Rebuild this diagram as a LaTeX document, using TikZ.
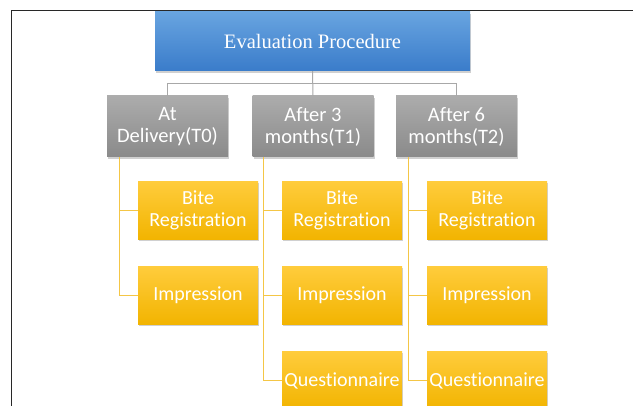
\documentclass[tikz,border=0pt]{standalone}
\usepackage{fontspec}
\setmainfont{Liberation Serif}
\newfontfamily\carlito[Ligatures={NoCommon}]{Carlito}
\usetikzlibrary{shadows}
\definecolor{bluetop}{RGB}{104,164,224}
\definecolor{bluebot}{RGB}{58,124,202}
\definecolor{graytop}{RGB}{172,172,172}
\definecolor{graybot}{RGB}{138,138,138}
\definecolor{yeltop}{RGB}{255,204,60}
\definecolor{yelbot}{RGB}{242,180,0}
\definecolor{glinec}{RGB}{168,168,168}
\definecolor{ylinec}{RGB}{244,198,70}
\definecolor{framec}{RGB}{40,40,40}
\tikzset{
  boxbase/.style={inner sep=0pt, align=center, text=white,
    drop shadow={shadow xshift=1.2pt, shadow yshift=-2pt, opacity=0.3, fill=black!60}},
  titlebox/.style={boxbase, minimum width=315pt, minimum height=59pt,
    top color=bluetop, bottom color=bluebot, font=\fontsize{20.5}{22}\selectfont},
  graybox/.style={boxbase, minimum width=121pt, minimum height=61pt,
    top color=graytop, bottom color=graybot, font=\carlito\fontsize{20.5}{22}\selectfont},
  yelbox/.style={boxbase, minimum width=120pt, minimum height=58pt,
    top color=yeltop, bottom color=yelbot, font=\carlito\fontsize{20}{22}\selectfont},
  gline/.style={draw=glinec, line width=1pt},
  yline/.style={draw=ylinec, line width=1.2pt},
}
\begin{document}
\begin{tikzpicture}[x=1pt,y=-1pt]
\useasboundingbox (0,0) rectangle (633,406);
\fill[white] (0,0) rectangle (633,406);
\coordinate (ftl) at (11,11);
\coordinate (ftr) at (633,11);
\coordinate (fbl) at (11,406);
\draw[framec, line width=1pt] (fbl) -- (ftl) -- (ftr);

\node[titlebox] (top) at (312.5,41.5) {Evaluation Procedure};

\node[graybox] (g1) at (167.5,126.5) {At\\Delivery(T0)};
\node[graybox] (g2) at (313,126.5) {After 3\\months(T1)};
\node[graybox] (g3) at (456.5,126.5) {After 6\\months(T2)};

\node[yelbox] (b1) at (198,210.5) {Bite\\Registration};
\node[yelbox] (i1) at (198,295.5) {Impression};
\node[yelbox] (b2) at (342,210.5) {Bite\\Registration};
\node[yelbox] (i2) at (342,295.5) {Impression};
\node[yelbox] (q2) at (342,380.5) {Questionnaire};
\node[yelbox] (b3) at (487,210.5) {Bite\\Registration};
\node[yelbox] (i3) at (487,295.5) {Impression};
\node[yelbox] (q3) at (487,380.5) {Questionnaire};

\draw[gline] (top.south) -- (g2.north);
\draw[gline] (g1.north) -- ++(0,-12) -| (g3.north);

\coordinate (c1) at ([xshift=13pt]g1.south west);
\coordinate (c2) at ([xshift=11pt]g2.south west);
\coordinate (c3) at ([xshift=13pt]g3.south west);
\draw[yline] (c1) |- (b1.west);
\draw[yline] (c1) |- (i1.west);
\draw[yline] (c2) |- (b2.west);
\draw[yline] (c2) |- (i2.west);
\draw[yline] (c2) |- (q2.west);
\draw[yline] (c3) |- (b3.west);
\draw[yline] (c3) |- (i3.west);
\draw[yline] (c3) |- (q3.west);
\end{tikzpicture}
\end{document}
